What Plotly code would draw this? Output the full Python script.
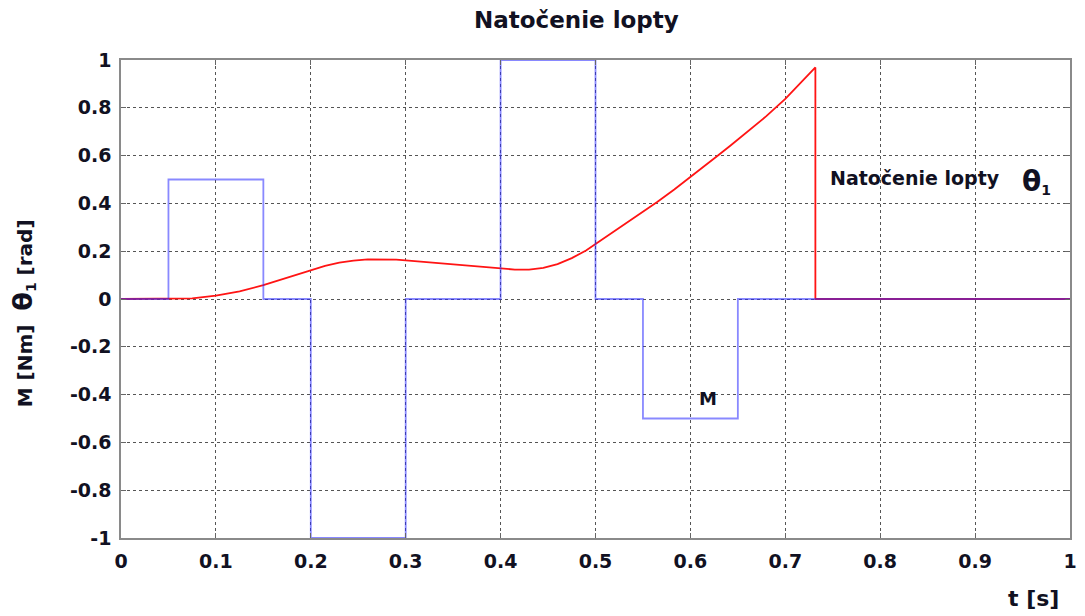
import plotly.graph_objects as go

# Torque M (step function)
t_m = [0, 0.05, 0.15, 0.2, 0.3, 0.4, 0.5, 0.55, 0.65, 1.0]
m_vals = [0, 0.5, 0, -1, 0, 1, 0, -0.5, 0, 0]

# Ball rotation theta_1
t_theta = [0, 0.05, 0.075, 0.1, 0.125, 0.15, 0.175, 0.2, 0.215, 0.23, 0.245,
           0.26, 0.275, 0.29, 0.3, 0.325, 0.35, 0.375, 0.4, 0.415, 0.43,
           0.445, 0.46, 0.475, 0.49, 0.5, 0.515, 0.532, 0.55, 0.565, 0.583,
           0.6, 0.615, 0.628, 0.642, 0.656, 0.68, 0.7, 0.716, 0.7317, 0.7317, 1.0]
theta_vals = [0, 0, 0.003, 0.014, 0.032, 0.058, 0.09, 0.122, 0.139, 0.152, 0.161,
              0.166, 0.167, 0.165, 0.162, 0.153, 0.145, 0.136, 0.127, 0.123, 0.123,
              0.13, 0.146, 0.171, 0.203, 0.23, 0.27, 0.316, 0.364, 0.406, 0.458,
              0.512, 0.557, 0.597, 0.641, 0.686, 0.765, 0.837, 0.902, 0.969, 0, 0]

x_ticks = [0, 0.1, 0.2, 0.3, 0.4, 0.5, 0.6, 0.7, 0.8, 0.9, 1]
x_tick_labels = ["0", "0.1", "0.2", "0.3", "0.4", "0.5", "0.6", "0.7", "0.8", "0.9", "1"]
y_ticks = [1, 0.8, 0.6, 0.4, 0.2, 0, -0.2, -0.4, -0.6, -0.8, -1]
y_tick_labels = ["1", "0.8", "0.6", "0.4", "0.2", "0", "-0.2", "-0.4", "-0.6", "-0.8", "-1"]

FONT = "DejaVu Sans, Arial, sans-serif"
TXT = "#111122"

fig = go.Figure()
fig.add_trace(go.Scatter(x=t_theta, y=theta_vals, mode="lines", line_shape="linear",
                         line=dict(color="rgb(255,20,20)", width=1.8),
                         showlegend=False, hoverinfo="skip"))
fig.add_trace(go.Scatter(x=t_m, y=m_vals, mode="lines", line_shape="hv",
                         line=dict(color="rgba(40,40,255,0.55)", width=1.8),
                         showlegend=False, hoverinfo="skip"))

axis_common = dict(
    showline=True, linecolor="#8a8a8a", linewidth=1.5, mirror="allticks",
    ticks="inside", ticklen=5, tickcolor="#666666", tickwidth=1,
    showgrid=True, gridcolor="#555555", gridwidth=1, griddash="dot",
    zeroline=False,
    tickfont=dict(family=FONT, size=19, color=TXT, weight="bold"),
)

fig.update_layout(
    width=1077, height=608,
    margin=dict(l=113, r=8, t=52, b=78),
    paper_bgcolor="white", plot_bgcolor="white",
    xaxis=dict(range=[0, 1], tickvals=x_ticks, ticktext=x_tick_labels,
               ticklabelstandoff=5, **axis_common),
    yaxis=dict(range=[-1, 1], tickvals=y_ticks, ticktext=y_tick_labels,
               ticklabelstandoff=4, **axis_common),
    font=dict(family=FONT, color=TXT),
)

fig.add_annotation(text="<b>Natočenie lopty</b>", xref="paper", yref="paper",
                   x=0.4796, y=1.0, yshift=40, yanchor="middle", showarrow=False,
                   font=dict(family=FONT, size=23, color=TXT))
fig.add_annotation(text="<b>M [Nm]  <span style='font-size:27px'>θ</span><sub>1</sub> [rad]</b>",
                   xref="paper", yref="paper", x=0, xshift=-116, y=0.47,
                   textangle=-90, showarrow=False,
                   font=dict(family=FONT, size=20, color=TXT))
fig.add_annotation(text="<b>t [s]</b>", xref="paper", yref="paper",
                   x=1, xshift=-9, y=0, yshift=-60, xanchor="right", yanchor="middle",
                   showarrow=False,
                   font=dict(family=FONT, size=22, color=TXT))
fig.add_annotation(text="<b>Natočenie lopty</b>",
                   x=0.7455, y=0.506, xanchor="left", yanchor="middle", showarrow=False,
                   font=dict(family=FONT, size=19, color=TXT))
fig.add_annotation(text="<b><span style='font-size:28px'>θ</span><sub>1</sub></b>",
                   x=0.947, y=0.49, xanchor="left", yanchor="middle", showarrow=False,
                   font=dict(family=FONT, size=20, color=TXT))
fig.add_annotation(text="<b>M</b>", x=0.619, y=-0.418, showarrow=False,
                   font=dict(family=FONT, size=18, color=TXT))

fig.write_html("out.html")
